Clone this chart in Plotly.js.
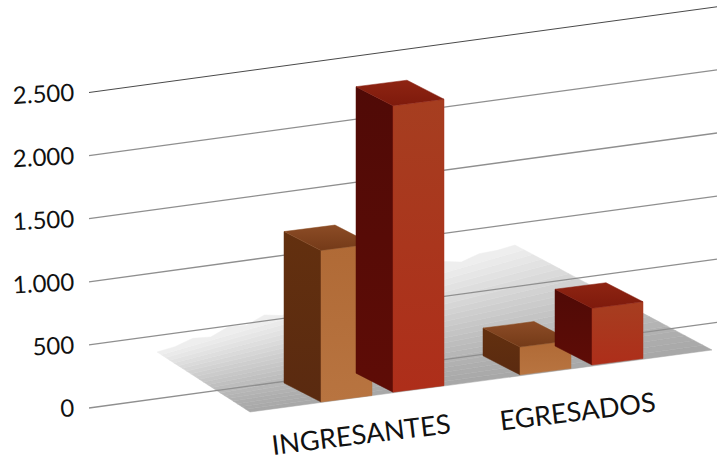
<!DOCTYPE html>
<html><head><meta charset="utf-8">
<script src="https://cdn.plot.ly/plotly-3.0.1.min.js"></script>
<style>html,body{margin:0;padding:0;background:#fff}#c{width:717px;height:467px}</style>
</head><body><div id="c"></div>
<script>
// Data
const categories = ['INGRESANTES', 'EGRESADOS'];
const seriesA = [1200, 220];
const seriesB = [2270, 450];
const tickVals = [0, 500, 1000, 1500, 2000, 2500];
const tickText = ['0', '500', '1.000', '1.500', '2.000', '2.500'];

// Pseudo-3D projection onto a cartesian plot (x in screen-like units, y in chart values)
const K = 0.1262, Y0 = 408;
const lift = py => (Y0 - py) / K;
const floorY = x => 402 - 0.1365 * (x - 321);
const catX = [321, 520], seriesOff = 72;
const W = [51, -6.5], D = [-37, -19];

function poly(name, pts, color, grad) {
  const t = {
    type: 'scatter', mode: 'lines', name, hoverinfo: 'skip', showlegend: false,
    x: pts.map(p => p[0]), y: pts.map(p => p[1]),
    fill: 'toself', fillcolor: color,
    line: {color, width: 0.5}
  };
  if (grad) t.fillgradient = {type: 'vertical', colorscale: [[0, grad[0]], [1, grad[1]]]};
  return t;
}
function bar(name, fx, value, c) {
  const by = floorY(fx);
  const P = (dx, dy, v) => [fx + dx, lift(by + dy) + v];
  const F0 = P(0, 0, 0), F1 = P(0, 0, value);
  const R0 = P(W[0], W[1], 0), R1 = P(W[0], W[1], value);
  const L0 = P(D[0], D[1], 0), L1 = P(D[0], D[1], value);
  const B1 = P(W[0] + D[0], W[1] + D[1], value);
  return [
    poly(name + ' side', [L0, F0, F1, L1, L0], c.side, c.sideGrad),
    poly(name + ' front', [F0, R0, R1, F1, F0], c.front, c.frontGrad),
    poly(name + ' top', [L1, F1, R1, B1, L1], c.top, c.topGrad)
  ];
}

const orange = {side: '#5c2c10', front: '#b5713c', top: '#8a4c22',
  frontGrad: ['#b87440', '#b06a36'], sideGrad: ['#5a2a10', '#63300f'], topGrad: ['#743a18', '#8c4c26']};
const red = {side: '#560c06', front: '#a8321c', top: '#861c0e',
  frontGrad: ['#ae2e1a', '#a63e20'], sideGrad: ['#5e0c06', '#500a06'], topGrad: ['#7e1a0c', '#8e2412']};

// Floor shadow: bands running from the front edge to the fading, ragged back edge
const A = [250, 412], B = [712, 350], C = [515, 245], Dk = [157, 352];
const shadow = [];
const bands = 22;
const mix = (p, q, t) => [p[0] + (q[0] - p[0]) * t, p[1] + (q[1] - p[1]) * t];
const toPlot = p => [p[0], lift(p[1])];
for (let i = 0; i < bands; i++) {
  const t0 = i / bands, t1 = (i + 1) / bands;
  const a0 = mix(A, Dk, t0), b0 = mix(B, C, t0), a1 = mix(A, Dk, t1), b1 = mix(B, C, t1);
  const g = Math.round(168 + 74 * Math.pow(t0, 1.25));
  const col = `rgb(${g},${g},${g})`;
  const edge = [a1];
  if (i === bands - 1) {
    const rag = [0, -3, 1, -4, 0, -5, 1, -3, -1, -5, 0, -4, 1, -3, 0, -5, 1, -2, 0];
    rag.forEach((r, k) => { const p = mix(a1, b1, (k + 1) / (rag.length + 1)); edge.push([p[0], p[1] + r]); });
  }
  edge.push(b1);
  shadow.push(poly('shadow ' + i, [a0, b0, ...edge.slice().reverse(), a0].map(toPlot), col));
}

// Slanted gridlines, one for each value tick
const gridEnds = [89, 717], gridSlope = -0.1365;
const grid = tickVals.map(v => ({
  type: 'scatter', mode: 'lines', hoverinfo: 'skip', showlegend: false, name: 'grid ' + v,
  x: gridEnds,
  y: gridEnds.map(x => v + lift(Y0 + gridSlope * (x - gridEnds[0]))),
  line: {color: v === 2500 ? '#4a4a4a' : '#8f8f8f', width: v === 2500 ? 1 : 1.3}
}));

const bars = [];
categories.forEach((c, i) => {
  bars.push(...bar(c + ' A', catX[i], seriesA[i], orange));
  bars.push(...bar(c + ' B', catX[i] + seriesOff, seriesB[i], red));
});

const labelPos = [[361, 433], [577, 410]];
const annotations = categories.map((c, i) => ({
  text: c, xref: 'x', yref: 'y', x: labelPos[i][0], y: lift(labelPos[i][1]),
  showarrow: false, textangle: -7, xanchor: 'center', yanchor: 'middle',
  font: {family: 'Lato, "Liberation Sans", sans-serif', size: 27, color: '#111'}
}));

Plotly.newPlot('c', [...shadow, ...grid, ...bars], {
  width: 717, height: 467, margin: {l: 75, r: 0, t: 0, b: 0},
  paper_bgcolor: '#fff', plot_bgcolor: '#fff', showlegend: false, hovermode: false,
  xaxis: {range: [75, 717], visible: false, fixedrange: true},
  yaxis: {range: [lift(467), lift(0)], fixedrange: true, showgrid: false, zeroline: false,
    showline: false, ticks: '', tickmode: 'array', tickvals: tickVals, ticktext: tickText,
    tickangle: -3, tickfont: {family: 'Lato, "Open Sans", sans-serif', size: 24, color: '#111'}},
  annotations
}, {staticPlot: true, displayModeBar: false});
</script></body></html>
